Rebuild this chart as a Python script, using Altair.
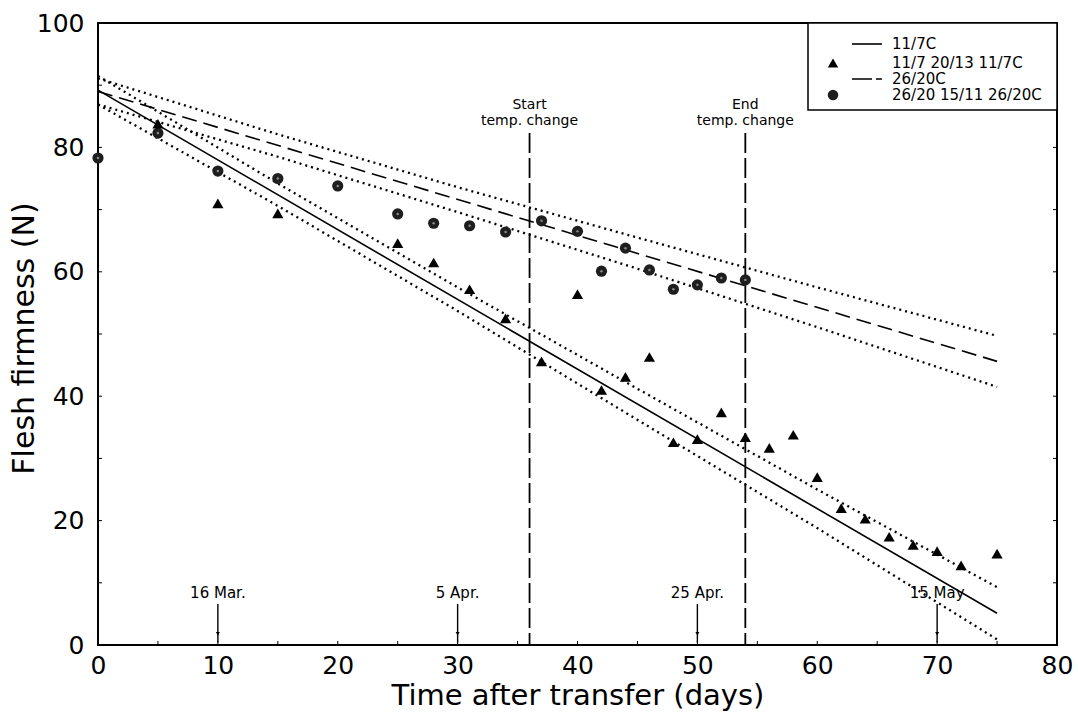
import altair as alt
import pandas as pd

# ---------------- data ----------------
circ_days = [0, 5, 10, 15, 20, 25, 28, 31, 34, 37, 40, 42, 44, 46, 48, 50, 52, 54]
circ_vals = [78.3, 82.3, 76.2, 75.0, 73.8, 69.3, 67.8, 67.4, 66.4, 68.2, 66.5,
             60.1, 63.8, 60.3, 57.2, 57.9, 59.0, 58.7]

tri_days = [5, 10, 15, 25, 28, 31, 34, 37, 40, 42, 44, 46, 48, 50, 52, 54, 56,
            58, 60, 62, 64, 66, 68, 70, 72, 75]
tri_vals = [83.8, 71.0, 69.4, 64.6, 61.5, 57.2, 52.5, 45.6, 56.4, 41.0, 43.1,
            46.3, 32.6, 33.1, 37.4, 33.4, 31.7, 33.8, 27.0, 22.0, 20.3, 17.4,
            16.1, 15.1, 12.8, 14.7]

reg_days = [0, 75]
solid_vals = [89.2, 5.1]
dashed_vals = [89.0, 45.6]

ci_days = [0, 15, 30, 45, 60, 75]
solid_upper = [91.5, 74.2, 57.5, 41.2, 25.0, 9.3]
solid_lower = [86.9, 70.6, 53.7, 36.2, 18.8, 0.9]
dashed_upper = [91.1, 82.1, 73.6, 65.5, 57.5, 49.7]
dashed_lower = [86.9, 78.5, 69.6, 60.5, 51.1, 41.5]

date_days = [10, 30, 50, 70]
date_labels = ["16 Mar.", "5 Apr.", "25 Apr.", "15 May"]

change_days = [36, 54]
change_labels = ["Start", "End"]
change_sub = ["temp. change", "temp. change"]

legend_labels = ["11/7C", "11/7 20/13 11/7C", "26/20C", "26/20 15/11 26/20C"]

x_ticks = [0, 10, 20, 30, 40, 50, 60, 70, 80]
y_ticks = [0, 20, 40, 60, 80, 100]
x_minor = [5, 10, 15, 20, 25, 30, 35, 40, 45, 50, 55, 60, 65, 70, 75]
y_minor = [10, 20, 30, 40, 50, 60, 70, 80, 90]

x_title = "Time after transfer (days)"
y_title = "Flesh firmness (N)"

# ---------------- styling ----------------
FONT = "DejaVu Sans"
W, H = 959, 622
BLACK = "#000000"

xs = alt.Scale(domain=[0, 80], nice=False, zero=False)
ys = alt.Scale(domain=[0, 100], nice=False, zero=False)

x_axis = alt.Axis(values=x_ticks, title=x_title, format="d", ticks=False,
                  domain=False, grid=False, labelFontSize=25, labelFont=FONT,
                  labelColor=BLACK, labelPadding=8, titleFontSize=29,
                  titleFont=FONT, titleColor=BLACK, titleFontWeight="normal",
                  titleBaseline="alphabetic", titleY=59, labelFlush=False)
y_axis = alt.Axis(values=y_ticks, title=y_title, format="d", ticks=False,
                  domain=False, grid=False, labelFontSize=25, labelFont=FONT,
                  labelColor=BLACK, labelPadding=14, titleFontSize=30,
                  titleFont=FONT, titleColor=BLACK, titleFontWeight="normal",
                  titleAngle=270, titleBaseline="alphabetic", titleX=-65,
                  titleY=H / 2 + 4, titleAlign="center", labelFlush=False)


def XF(field="d"):
    return alt.X(f"{field}:Q", scale=xs, axis=x_axis, title=x_title)


def YF(field="v"):
    return alt.Y(f"{field}:Q", scale=ys, axis=y_axis, title=y_title)


def YD(val):
    return alt.YDatum(val, scale=ys, axis=y_axis, title=y_title)


# ---------------- tables ----------------
circ_df = pd.DataFrame({"d": circ_days, "v": circ_vals})
tri_df = pd.DataFrame({"d": tri_days, "v": tri_vals})
solid_df = pd.DataFrame({"d": reg_days, "v": solid_vals})
dashed_df = pd.DataFrame({"d": reg_days, "v": dashed_vals})
ci_rows = []
for name, vals in [("su", solid_upper), ("sl", solid_lower),
                   ("du", dashed_upper), ("dl", dashed_lower)]:
    for d, v in zip(ci_days, vals):
        ci_rows.append({"d": d, "v": v, "s": name})
ci_df = pd.DataFrame(ci_rows)
date_df = pd.DataFrame({"d": date_days, "lab": date_labels})
change_df = pd.DataFrame({"d": change_days, "lab": change_labels, "sub": change_sub})
xminor_df = pd.DataFrame({"d": x_minor})
yminor_df = pd.DataFrame({"v": y_minor})
one = pd.DataFrame({"a": [0]})

# ---------------- layers ----------------
ci_lines = alt.Chart(ci_df).mark_line(
    color=BLACK, strokeWidth=2.3, strokeDash=[2, 4]
).encode(x=XF(), y=YF(), detail="s:N")

solid_line = alt.Chart(solid_df).mark_line(color=BLACK, strokeWidth=1.6).encode(
    x=XF(), y=YF())

dashed_line = alt.Chart(dashed_df).mark_line(
    color=BLACK, strokeWidth=1.6, strokeDash=[15, 7]
).encode(x=XF(), y=YF())

change_rules = alt.Chart(change_df).mark_rule(
    color=BLACK, strokeWidth=1.8, strokeDash=[20, 5]
).encode(x=XF(), y=YD(82.3), y2=alt.datum(0))

change_text1 = alt.Chart(change_df).mark_text(
    font=FONT, fontSize=14, color=BLACK, baseline="alphabetic", align="center"
).encode(x=XF(), y=YD(86.1), text="lab:N")
change_text2 = alt.Chart(change_df).mark_text(
    font=FONT, fontSize=14, color=BLACK, baseline="alphabetic", align="center"
).encode(x=XF(), y=YD(83.6), text="sub:N")

date_rules = alt.Chart(date_df).mark_rule(color=BLACK, strokeWidth=1.4).encode(
    x=XF(), y=YD(6.6), y2=alt.datum(0.4))
date_heads = alt.Chart(date_df).mark_point(
    shape="triangle-down", filled=True, color=BLACK, size=16, opacity=1
).encode(x=XF(), y=YD(1.8))
date_text = alt.Chart(date_df).mark_text(
    font=FONT, fontSize=15, color=BLACK, baseline="alphabetic", align="center"
).encode(x=XF(), y=YD(7.6), text="lab:N")

circles = alt.Chart(circ_df).mark_point(
    shape="circle", filled=True, color="#1e1e1e", size=125, opacity=1
).encode(x=XF(), y=YF())
circle_spots = alt.Chart(circ_df).mark_point(
    shape="circle", filled=True, color="#8a8a8a", size=6, opacity=1
).encode(x=XF(), y=YF())

triangles = alt.Chart(tri_df).mark_point(
    shape="triangle-up", filled=True, color=BLACK, size=125, opacity=1
).encode(x=XF(), y=YF())

# minor inward ticks
x_minor_ticks = alt.Chart(xminor_df).mark_rule(color=BLACK, strokeWidth=1).encode(
    x=XF(), y=alt.value(H), y2=alt.value(H - 4))
y_minor_left = alt.Chart(yminor_df).mark_rule(color=BLACK, strokeWidth=1).encode(
    y=YF(), x=alt.value(0), x2=alt.value(4))
y_minor_right = alt.Chart(yminor_df).mark_rule(color=BLACK, strokeWidth=1).encode(
    y=YF(), x=alt.value(W - 4), x2=alt.value(W))

# ---------------- hand-drawn legend box ----------------
LX0, LX1, LY1 = 710, W, 87
SYM_X, LINE_X0, LINE_X1, TXT_X = 735, 754, 784, 794
ROW_Y = [21, 40, 56, 72]

legend_box = alt.Chart(one).mark_rect(
    fill="white", stroke=BLACK, strokeWidth=1.5
).encode(x=alt.value(LX0), x2=alt.value(LX1), y=alt.value(0), y2=alt.value(LY1))

leg_solid = alt.Chart(one).mark_rule(color=BLACK, strokeWidth=1.6).encode(
    x=alt.value(LINE_X0), x2=alt.value(LINE_X1), y=alt.value(ROW_Y[0]))
leg_tri = alt.Chart(one).mark_point(
    shape="triangle-up", filled=True, color=BLACK, size=110, opacity=1
).encode(x=alt.value(SYM_X), y=alt.value(ROW_Y[1]))
leg_dash = alt.Chart(one).mark_rule(
    color=BLACK, strokeWidth=1.6, strokeDash=[20, 4]
).encode(x=alt.value(LINE_X0), x2=alt.value(LINE_X1), y=alt.value(ROW_Y[2]))
leg_circ = alt.Chart(one).mark_point(
    shape="circle", filled=True, color="#1e1e1e", size=110, opacity=1
).encode(x=alt.value(SYM_X), y=alt.value(ROW_Y[3]))

leg_texts = []
for lab, yy in zip(legend_labels, ROW_Y):
    leg_texts.append(
        alt.Chart(one).mark_text(
            font=FONT, fontSize=15, color=BLACK, align="left", baseline="middle",
            text=lab,
        ).encode(x=alt.value(TXT_X), y=alt.value(yy))
    )

chart = alt.layer(
    ci_lines,
    solid_line,
    dashed_line,
    change_rules,
    change_text1,
    change_text2,
    date_rules,
    date_heads,
    date_text,
    circles,
    circle_spots,
    triangles,
    x_minor_ticks,
    y_minor_left,
    y_minor_right,
    legend_box,
    leg_solid,
    leg_tri,
    leg_dash,
    leg_circ,
    *leg_texts,
).properties(
    width=W,
    height=H,
    autosize=alt.AutoSizeParams(type="none"),
    padding={"left": 98, "top": 23, "right": 1078 - 98 - W, "bottom": 712 - 23 - H},
    background="white",
).configure(
    font=FONT
).configure_view(
    stroke=BLACK, strokeWidth=2
)

chart.save("out.html", embed_options={"renderer": "svg", "actions": False})
